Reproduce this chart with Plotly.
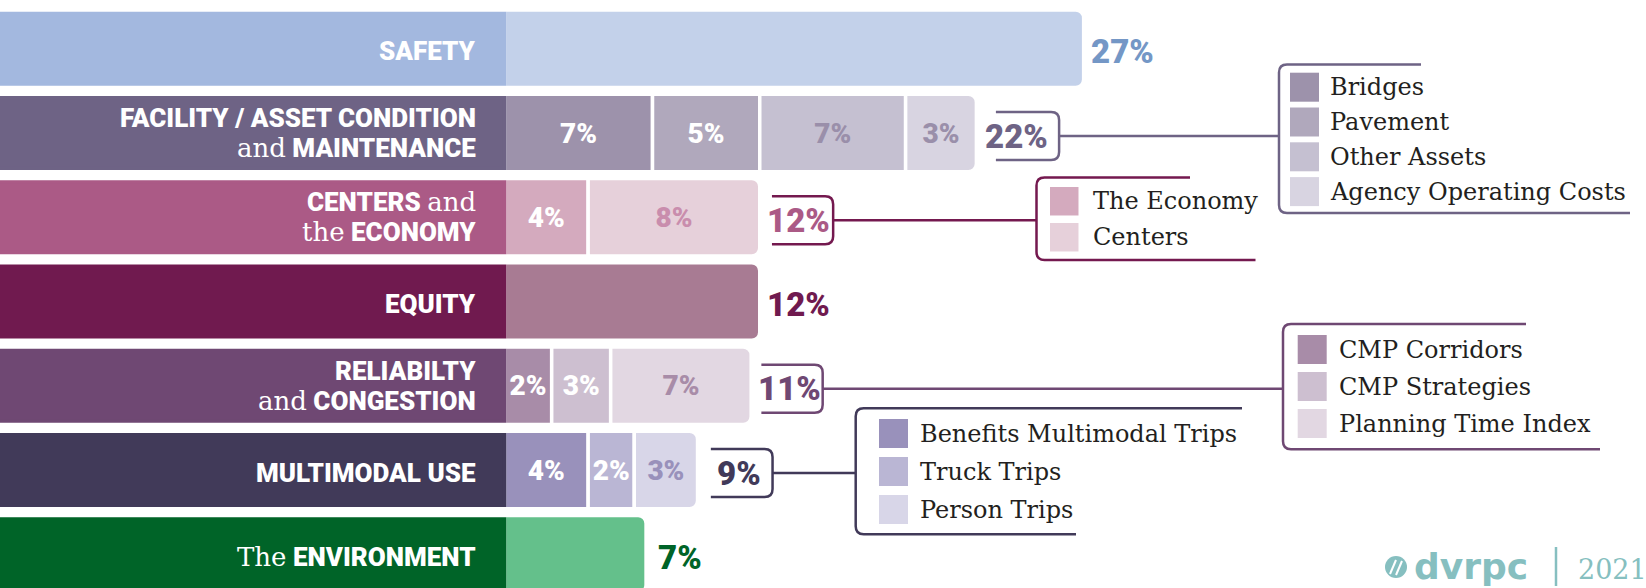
import plotly.graph_objects as go

W, H = 1646, 588

# ---------------- data ----------------
categories = ["Safety", "Facility / Asset Condition and Maintenance", "Centers and the Economy",
              "Equity", "Reliability and Congestion", "Multimodal Use", "The Environment"]

safety_parts = [27.0]
facility_parts = [6.9, 5.0, 6.8, 3.3]
centers_parts = [3.9, 8.0]
equity_parts = [11.9]
reliability_parts = [2.2, 2.75, 6.55]
multimodal_parts = [3.9, 2.15, 2.95]
environment_parts = [6.6]

safety_labels = [""]
facility_labels = ["7%", "5%", "7%", "3%"]
centers_labels = ["4%", "8%"]
equity_labels = [""]
reliability_labels = ["2%", "3%", "7%"]
multimodal_labels = ["4%", "2%", "3%"]
environment_labels = [""]

total_labels = ["27%", "22%", "12%", "12%", "11%", "9%", "7%"]

facility_legend = ["Bridges", "Pavement", "Other Assets", "Agency Operating Costs"]
centers_legend = ["The Economy", "Centers"]
reliability_legend = ["CMP Corridors", "CMP Strategies", "Planning Time Index"]
multimodal_legend = ["Benefits Multimodal Trips", "Truck Trips", "Person Trips"]

label_lines = [
    ["SAFETY"],
    ["FACILITY / ASSET CONDITION", "{and} MAINTENANCE"],
    ["CENTERS {and}", "{the} ECONOMY"],
    ["EQUITY"],
    ["RELIABILTY", "{and} CONGESTION"],
    ["MULTIMODAL USE"],
    ["{The} ENVIRONMENT"],
]

part_values = [safety_parts, facility_parts, centers_parts, equity_parts,
               reliability_parts, multimodal_parts, environment_parts]
part_labels = [safety_labels, facility_labels, centers_labels, equity_labels,
               reliability_labels, multimodal_labels, environment_labels]

# ---------------- styles ----------------
block_colors = ["#A3B8DF", "#6E6385", "#AB5A86", "#701A4F", "#6F4873", "#413A59", "#006428"]
total_colors = ["#7497C6", "#6E6385", "#AB5A86", "#701A4F", "#6F4873", "#413A59", "#006428"]
seg_colors = [
    ["#C3D1EA"],
    ["#9D92AB", "#B0A8BC", "#C5C0D1", "#D8D4E1"],
    ["#D4AABE", "#E6D0DA"],
    ["#A87B93"],
    ["#A88CA8", "#CDBFD0", "#E2D7E2"],
    ["#9991BB", "#BAB6D4", "#D8D6E8"],
    ["#64C08B"],
]
seg_text_colors = [
    ["#FFFFFF"],
    ["#FFFFFF", "#FFFFFF", "#9A8FAA", "#9A8FAA"],
    ["#FFFFFF", "#C98DAD"],
    ["#FFFFFF"],
    ["#FFFFFF", "#FFFFFF", "#A88CA8"],
    ["#FFFFFF", "#FFFFFF", "#9991BB"],
    ["#FFFFFF"],
]
bracket_colors = {1: "#6E6385", 2: "#74194F", 4: "#6F4873", 5: "#413A59"}
legend_items = {1: facility_legend, 2: centers_legend, 4: reliability_legend, 5: multimodal_legend}
total_dx = [5.5, 7, 5, 5, 5, 17, 10]
brackets = {1: (19.5, 82.7), 2: (12.2, 73.4), 4: (10.2, 71.5), 5: (13.3, 75.0)}
legend_boxes = {
    1: dict(L=1279, T=64.5, B=213, TE=1421, BE=1630, sx=1290, sy=72.7, ss=29, pitch=34.8, tx=1328),
    2: dict(L=1036.5, T=177.5, B=260, TE=1190, BE=1255.5, sx=1050, sy=187, ss=28.5, pitch=36, tx=1090.7),
    4: dict(L=1283, T=324, B=449.3, TE=1526, BE=1600, sx=1297.7, sy=335, ss=29, pitch=37, tx=1336.7),
    5: dict(L=855.7, T=408.3, B=534.3, TE=1242, BE=1076, sx=879, sy=419, ss=29, pitch=38, tx=918.3),
}

SANS = "Roboto"
SERIF = "DejaVu Serif"
TEAL = "#86BFC0"
INK = "#231F20"

# ---------------- geometry (layout scale) ----------------
PX_PER_UNIT = 21.45
X_ZERO_PX = 504.5
X0 = -X_ZERO_PX / PX_PER_UNIT
X1 = X0 + W / PX_PER_UNIT
ROW_PITCH = 84.25
ROW0_PX = 48.75
Y_TOP = -ROW0_PX / ROW_PITCH
Y_BOT = Y_TOP + H / ROW_PITCH
SEG_LINE = 3.5
VIS_H = 74.0
SEG_W = (VIS_H + SEG_LINE) / ROW_PITCH
BLOCK_W = (VIS_H - SEG_LINE) / ROW_PITCH


def xpx(v):
    return (v - X0) / (X1 - X0) * W


def ypx(i):
    return (i - Y_TOP) / (Y_BOT - Y_TOP) * H


def px(x):
    return x / W


def py(y):
    return 1 - y / H


totals = [sum(p) for p in part_values]
n = len(categories)
max_parts = max(len(p) for p in part_values)

fig = go.Figure()

for k in range(max_parts):
    xs, txt, cols, tcols = [], [], [], []
    for i in range(n):
        if k < len(part_values[i]):
            xs.append(part_values[i][k])
            txt.append(part_labels[i][k])
            cols.append(seg_colors[i][k])
            tcols.append(seg_text_colors[i][k])
        else:
            xs.append(None)
            txt.append("")
            cols.append("#FFFFFF")
            tcols.append("#FFFFFF")
    fig.add_trace(go.Bar(
        y=categories, x=xs, orientation="h", width=SEG_W,
        marker=dict(color=cols, line=dict(color="#FFFFFF", width=SEG_LINE)),
        text=txt, textposition="inside", insidetextanchor="middle", textangle=0,
        constraintext="none",
        textfont=dict(family=SANS, size=28, color=tcols, weight=900),
        hoverinfo="skip", showlegend=False,
    ))

# label blocks (negative side, on an overlaid axis so they stay square-cornered)
fig.add_trace(go.Bar(
    y=categories, x=[-30] * n, orientation="h", width=BLOCK_W, xaxis="x2",
    marker=dict(color=block_colors, line=dict(color=block_colors, width=SEG_LINE), cornerradius=0),
    hoverinfo="skip", showlegend=False,
))

annotations = []
shapes = []


def fmt(s):
    return s.replace("{", '<span style="font-family:DejaVu Serif;font-weight:normal">').replace("}", "</span>")


# category labels
for i, lines in enumerate(label_lines):
    if len(lines) == 1:
        offs = [2.5]
    else:
        offs = [-15.0, 15.0]
    for line, o in zip(lines, offs):
        annotations.append(dict(
            x=0, y=i, xref="x", yref="y", xanchor="right", yanchor="middle",
            xshift=-26.5, yshift=-o, showarrow=False, text=fmt(line),
            font=dict(family=SANS, size=26, color="#FFFFFF", weight=900),
        ))

# total labels
for i in range(n):
    annotations.append(dict(
        x=totals[i], y=i, xref="x", yref="y", xanchor="left", yanchor="middle",
        xshift=total_dx[i], yshift=-3, showarrow=False, text=total_labels[i],
        font=dict(family=SANS, size=33, color=total_colors[i], weight=900),
    ))

# brackets + connectors + legends
R = 8
for i, (s, r) in brackets.items():
    col = bracket_colors[i]
    bx = xpx(totals[i])
    cy = ypx(i) + 3
    top, bot = cy - 24, cy + 24
    xs_, xr = bx + s, bx + r
    lb = legend_boxes[i]
    path = (f"M{px(xs_)},{py(top)} L{px(xr - R)},{py(top)} Q{px(xr)},{py(top)} {px(xr)},{py(top + R)} "
            f"L{px(xr)},{py(bot - R)} Q{px(xr)},{py(bot)} {px(xr - R)},{py(bot)} L{px(xs_)},{py(bot)} "
            f"M{px(xr)},{py(cy)} L{px(lb['L'])},{py(cy)}")
    shapes.append(dict(type="path", xref="paper", yref="paper", path=path,
                       line=dict(color=col, width=2.5)))
    L, T, B = lb["L"], lb["T"], lb["B"]
    lpath = (f"M{px(lb['TE'])},{py(T)} L{px(L + R)},{py(T)} Q{px(L)},{py(T)} {px(L)},{py(T + R)} "
             f"L{px(L)},{py(B - R)} Q{px(L)},{py(B)} {px(L + R)},{py(B)} L{px(lb['BE'])},{py(B)}")
    shapes.append(dict(type="path", xref="paper", yref="paper", path=lpath,
                       line=dict(color=col, width=2.5)))
    for k, name in enumerate(legend_items[i]):
        y0 = lb["sy"] + k * lb["pitch"]
        shapes.append(dict(type="rect", xref="paper", yref="paper",
                           x0=px(lb["sx"]), x1=px(lb["sx"] + lb["ss"]),
                           y0=py(y0), y1=py(y0 + lb["ss"]),
                           fillcolor=seg_colors[i][k], line=dict(width=0)))
        annotations.append(dict(
            x=px(lb["tx"]), y=py(y0 + lb["ss"] / 2), xref="paper", yref="paper",
            xanchor="left", yanchor="middle", showarrow=False, text=name,
            font=dict(family=SERIF, size=24, color=INK),
        ))

# logo
shapes.append(dict(type="circle", xref="paper", yref="paper",
                   x0=px(1385), x1=px(1407), y0=py(556), y1=py(578),
                   fillcolor=TEAL, line=dict(width=0)))
for (a, b, c, d) in [(1390, 574, 1396, 560), (1396, 575, 1402, 561)]:
    shapes.append(dict(type="line", xref="paper", yref="paper",
                       x0=px(a), y0=py(b), x1=px(c), y1=py(d),
                       line=dict(color="#FFFFFF", width=2)))
shapes.append(dict(type="line", xref="paper", yref="paper",
                   x0=px(1556), x1=px(1556), y0=py(547), y1=py(586),
                   line=dict(color=TEAL, width=2.5)))
annotations.append(dict(x=px(1412), y=py(566.5), xref="paper", yref="paper",
                        xanchor="left", yanchor="middle", showarrow=False, text="dvrpc",
                        font=dict(family="DejaVu Sans", size=36, color=TEAL, weight="bold")))
annotations.append(dict(x=px(1576), y=py(569), xref="paper", yref="paper",
                        xanchor="left", yanchor="middle", showarrow=False, text="2021",
                        font=dict(family=SERIF, size=27, color=TEAL)))

fig.update_layout(
    width=W, height=H,
    margin=dict(l=0, r=0, t=0, b=0, pad=0),
    paper_bgcolor="#FFFFFF", plot_bgcolor="#FFFFFF",
    barmode="relative", barcornerradius=8,
    xaxis=dict(range=[X0, X1], visible=False, showgrid=False, zeroline=False, fixedrange=True),
    xaxis2=dict(range=[X0, X1], overlaying="x", visible=False, showgrid=False,
                zeroline=False, fixedrange=True),
    yaxis=dict(type="category", categoryorder="array", categoryarray=categories,
               range=[Y_BOT, Y_TOP], visible=False, showgrid=False, zeroline=False, fixedrange=True),
    annotations=annotations, shapes=shapes, showlegend=False,
)

fig.write_html("out.html", config={"displayModeBar": False},
               post_script="document.body.style.margin='0px';document.body.style.overflow='hidden';")
